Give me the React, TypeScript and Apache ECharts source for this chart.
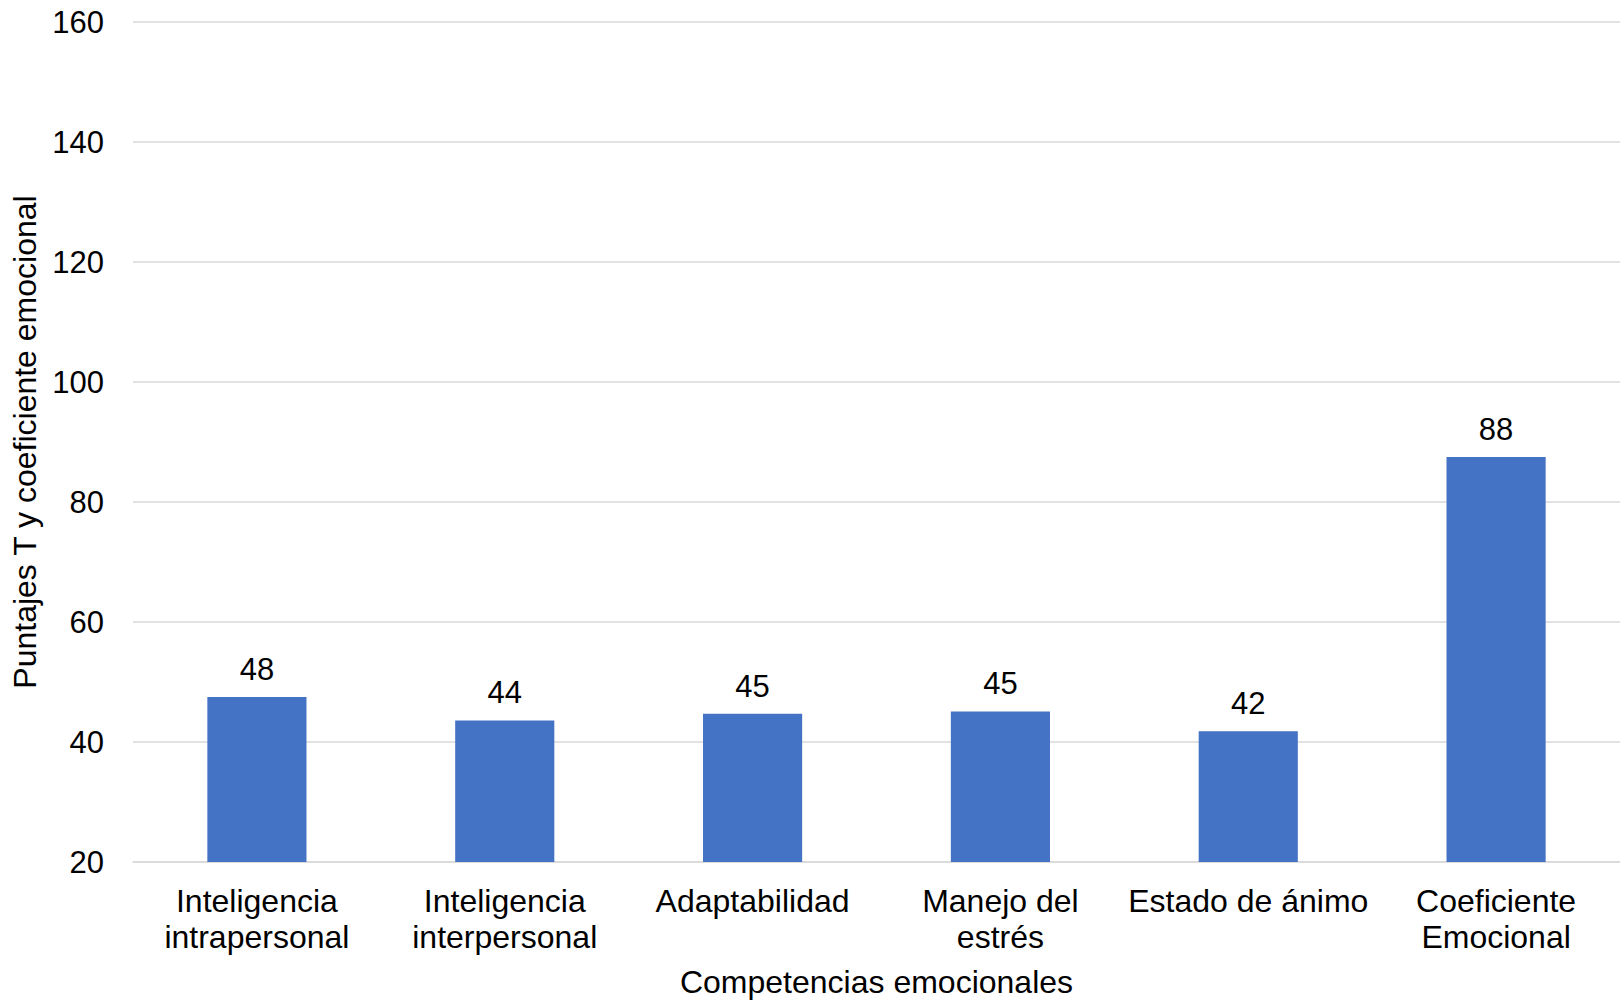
import React, { useEffect, useRef } from "react";
import * as echarts from "echarts";

// Competencias emocionales y sus puntajes
const categories = [
  "Inteligencia\nintrapersonal",
  "Inteligencia\ninterpersonal",
  "Adaptabilidad",
  "Manejo del\nestrés",
  "Estado de ánimo",
  "Coeficiente\nEmocional",
];
const scores = [47.5, 43.6, 44.7, 45.1, 41.8, 87.5];

const yMin = 20;
const yMax = 160;
const yStep = 20;

const xTitle = "Competencias emocionales";
const yTitle = "Puntajes T y coeficiente emocional";

const FONT = "'Liberation Sans', Arial, sans-serif";

export default function App() {
  const ref = useRef<HTMLDivElement>(null);

  useEffect(() => {
    if (!ref.current) return;
    const chart = echarts.init(ref.current, null, { renderer: "svg" });
    chart.setOption({
      animation: false,
      backgroundColor: "#ffffff",
      textStyle: { fontFamily: FONT },
      grid: { left: 133, right: 0, top: 22, bottom: 138, containLabel: false },
      xAxis: {
        type: "category",
        data: categories,
        name: xTitle,
        nameLocation: "middle",
        nameGap: 104,
        nameTextStyle: { fontSize: 32, color: "#000", fontFamily: FONT },
        axisLine: { show: true, lineStyle: { color: "#d9d9d9", width: 1.5 } },
        axisTick: { show: false },
        axisLabel: {
          interval: 0,
          fontSize: 32,
          lineHeight: 36,
          color: "#000",
          margin: 21,
          fontFamily: FONT,
        },
      },
      yAxis: {
        type: "value",
        min: yMin,
        max: yMax,
        interval: yStep,
        name: yTitle,
        nameLocation: "middle",
        nameGap: 92,
        nameTextStyle: { fontSize: 32, color: "#000", fontFamily: FONT },
        axisLine: { show: false },
        axisTick: { show: false },
        axisLabel: { fontSize: 31, color: "#000", margin: 29, fontFamily: FONT },
        splitLine: { show: true, lineStyle: { color: "#d9d9d9", width: 1.5 } },
      },
      series: [
        {
          type: "bar",
          data: scores,
          barWidth: "40%",
          itemStyle: { color: "#4472c4" },
          label: {
            show: true,
            position: "top",
            distance: 12,
            fontSize: 31,
            color: "#000",
            fontFamily: FONT,
            formatter: (p: any) => String(Math.round(p.value)),
          },
        },
      ],
    });
    return () => chart.dispose();
  }, []);

  return (
    <div
      ref={ref}
      style={{ position: "absolute", left: 0, top: 0, width: 1620, height: 1003 }}
    />
  );
}
